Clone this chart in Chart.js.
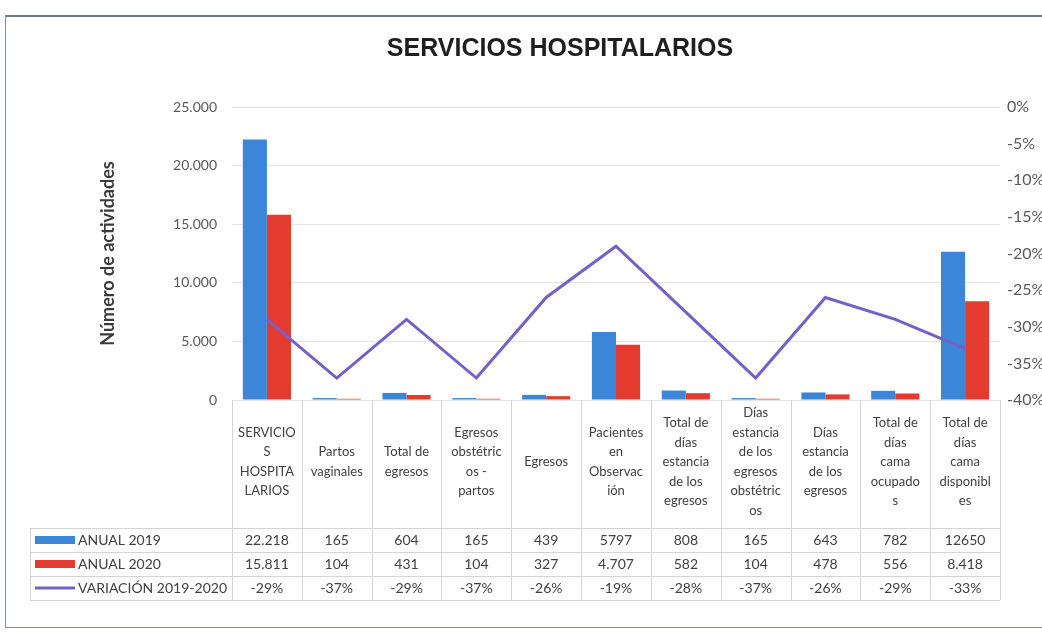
<!DOCTYPE html>
<html lang="es">
<head>
<meta charset="utf-8">
<title>Servicios hospitalarios</title>
<script src="https://cdn.jsdelivr.net/npm/chart.js@4.4.1/dist/chart.umd.min.js"></script>
<style>
  html, body { margin: 0; padding: 0; background: #fff; overflow: hidden; }
  #wrap { position: relative; width: 1042px; height: 633px; overflow: hidden; }
  #marco { position: absolute; left: 5px; top: 15px; width: 1080px; height: 613px;
           border: 1px solid #8090a8; border-top: 2px solid #6c7b94; box-sizing: border-box; }
  #lienzo { position: absolute; left: 0; top: 0; }
</style>
</head>
<body>
<div id="wrap">
  <div id="marco"></div>
  <canvas id="lienzo" width="1068" height="633"></canvas>
</div>
<script>
// categorías tal como aparecen cortadas en la tabla de datos
const categorias = [
  ['SERVICIO', 'S', 'HOSPITA', 'LARIOS'],
  ['Partos', 'vaginales'],
  ['Total de', 'egresos'],
  ['Egresos', 'obstétric', 'os -', 'partos'],
  ['Egresos'],
  ['Pacientes', 'en', 'Observac', 'ión'],
  ['Total de', 'días', 'estancia', 'de los', 'egresos'],
  ['Días', 'estancia', 'de los', 'egresos', 'obstétric', 'os'],
  ['Días', 'estancia', 'de los', 'egresos'],
  ['Total de', 'días', 'cama', 'ocupado', 's'],
  ['Total de', 'días', 'cama', 'disponibl', 'es']
];
const anual2019 = [22218, 165, 604, 165, 439, 5797, 808, 165, 643, 782, 12650];
const anual2020 = [15811, 104, 431, 104, 327, 4707, 582, 104, 478, 556, 8418];
const variacion = [-29, -37, -29, -37, -26, -19, -28, -37, -26, -29, -33];
// texto de las celdas de la tabla (mismo formato que la hoja original)
const texto2019 = ['22.218', '165', '604', '165', '439', '5797', '808', '165', '643', '782', '12650'];
const texto2020 = ['15.811', '104', '431', '104', '327', '4.707', '582', '104', '478', '556', '8.418'];
const nombresSeries = ['ANUAL 2019', 'ANUAL 2020', 'VARIACIÓN 2019-2020'];

const AZUL = '#3b86d9';
const ROJO = '#e33b2f';
const MORADO = '#7460c6';
const FUENTE = 'Lato, "Open Sans", sans-serif';

const miles = v => String(v).replace(/\B(?=(\d{3})+(?!\d))/g, '.');

// título y tabla de datos bajo el eje X
const tablaDatos = {
  id: 'tablaDatos',
  afterDraw(chart) {
    const { ctx, chartArea: a } = chart;
    const n = categorias.length;
    const ancho = (a.right - a.left) / n;
    const finCabecera = a.bottom + 128;
    const alto = 24;
    const filas = [finCabecera, finCabecera + alto, finCabecera + 2 * alto, finCabecera + 3 * alto];
    const izqLeyenda = 30;

    ctx.save();
    ctx.fillStyle = '#1f1f1f';
    ctx.font = 'bold 25px "Liberation Sans", Arial, sans-serif';
    ctx.textAlign = 'center';
    ctx.textBaseline = 'middle';
    ctx.fillText('SERVICIOS HOSPITALARIOS', 560, 49);

    ctx.strokeStyle = '#d4d4d4';
    ctx.lineWidth = 1;
    ctx.beginPath();
    for (let i = 0; i <= n; i++) {
      const x = Math.round(a.left + i * ancho) + 0.5;
      ctx.moveTo(x, a.bottom);
      ctx.lineTo(x, filas[3]);
    }
    filas.forEach(y => {
      ctx.moveTo(izqLeyenda, y + 0.5);
      ctx.lineTo(a.right, y + 0.5);
    });
    ctx.moveTo(izqLeyenda + 0.5, filas[0]);
    ctx.lineTo(izqLeyenda + 0.5, filas[3]);
    ctx.stroke();

    ctx.fillStyle = '#404040';
    ctx.font = '13px ' + FUENTE;
    const centroCab = (a.bottom + finCabecera) / 2 - 2;
    categorias.forEach((lineas, i) => {
      const cx = a.left + (i + 0.5) * ancho;
      const y0 = centroCab - (lineas.length - 1) * 19.5 / 2;
      lineas.forEach((t, k) => ctx.fillText(t, cx, y0 + k * 19.5));
    });

    ctx.font = '14px ' + FUENTE;
    const celdas = [texto2019, texto2020, variacion.map(v => v + '%')];
    celdas.forEach((fila, r) => {
      const cy = filas[r] + alto / 2;
      fila.forEach((t, i) => ctx.fillText(t, a.left + (i + 0.5) * ancho, cy));
    });

    // claves de la leyenda
    ctx.textAlign = 'left';
    ctx.fillStyle = AZUL;
    ctx.fillRect(35, filas[0] + 8, 40, 8);
    ctx.fillStyle = ROJO;
    ctx.fillRect(35, filas[1] + 8, 40, 8);
    ctx.strokeStyle = MORADO;
    ctx.lineWidth = 3;
    ctx.beginPath();
    ctx.moveTo(35, filas[2] + 12);
    ctx.lineTo(75, filas[2] + 12);
    ctx.stroke();
    ctx.fillStyle = '#404040';
    ctx.font = '14px ' + FUENTE;
    nombresSeries.forEach((t, r) => ctx.fillText(t, 78, filas[r] + alto / 2));
    ctx.restore();
  }
};

new Chart(document.getElementById('lienzo'), {
  data: {
    labels: categorias,
    datasets: [
      {
        type: 'line',
        label: nombresSeries[2],
        data: variacion,
        yAxisID: 'y1',
        borderColor: MORADO,
        borderWidth: 3,
        pointRadius: 0,
        tension: 0,
        order: 0
      },
      {
        type: 'bar',
        label: nombresSeries[0],
        data: anual2019,
        backgroundColor: AZUL,
        categoryPercentage: 0.69,
        barPercentage: 1,
        order: 1
      },
      {
        type: 'bar',
        label: nombresSeries[1],
        data: anual2020,
        backgroundColor: ROJO,
        categoryPercentage: 0.69,
        barPercentage: 1,
        order: 1
      }
    ]
  },
  options: {
    responsive: false,
    animation: false,
    layout: { padding: { top: 107, bottom: 233, left: 0, right: 0 } },
    plugins: {
      legend: { display: false },
      title: { display: false },
      tooltip: { enabled: false }
    },
    scales: {
      x: { display: false },
      y: {
        position: 'left',
        min: 0,
        max: 25000,
        ticks: {
          stepSize: 5000,
          color: '#595959',
          font: { family: FUENTE, size: 14 },
          padding: 15,
          callback: v => miles(v)
        },
        grid: { color: '#e4e4e4', drawTicks: false },
        border: { display: false },
        title: {
          display: true,
          text: 'Número de actividades',
          color: '#3a3a3a',
          font: { family: FUENTE, size: 18, weight: 'bold' },
          padding: { top: 97, bottom: 0 }
        },
        afterFit: s => { s.width = 232; }
      },
      y1: {
        position: 'right',
        min: -40,
        max: 0,
        ticks: {
          stepSize: 5,
          color: '#595959',
          font: { family: FUENTE, size: 16 },
          padding: 7,
          callback: v => v + '%'
        },
        grid: { drawOnChartArea: false, drawTicks: false },
        border: { display: false },
        afterFit: s => { s.width = 68; }
      }
    }
  },
  plugins: [tablaDatos]
});
</script>
</body>
</html>
